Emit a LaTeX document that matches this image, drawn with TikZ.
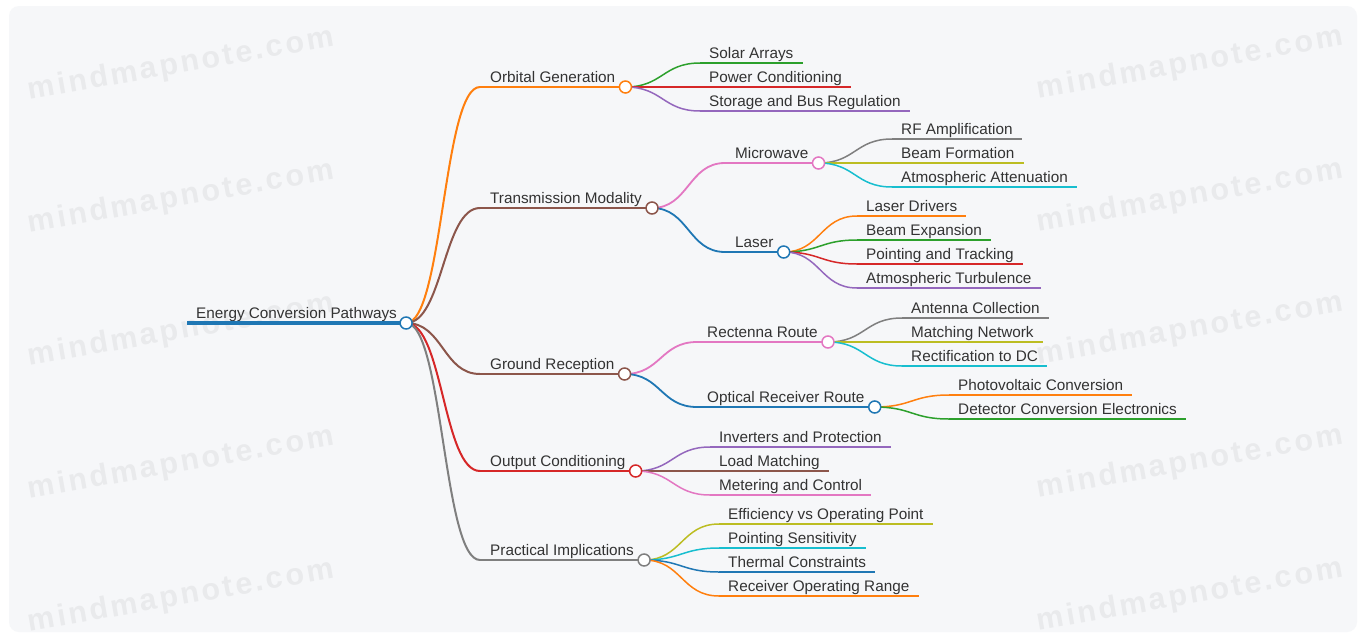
\documentclass[tikz,border=0pt]{standalone}
\usepackage{fontspec}
\setmainfont{Liberation Sans}
\newfontfamily\wmfont[LetterSpace=9]{Liberation Sans}
\usetikzlibrary{calc}
\definecolor{cblue}{HTML}{1F77B4}
\definecolor{corange}{HTML}{FF7F0E}
\definecolor{cgreen}{HTML}{2CA02C}
\definecolor{cred}{HTML}{D62728}
\definecolor{cpurple}{HTML}{9467BD}
\definecolor{cbrown}{HTML}{8C564B}
\definecolor{cpink}{HTML}{E377C2}
\definecolor{cgray}{HTML}{7F7F7F}
\definecolor{colive}{HTML}{BCBD22}
\definecolor{ccyan}{HTML}{17BECF}
\definecolor{bg}{HTML}{F6F7F9}
\definecolor{txt}{HTML}{333333}
\definecolor{wm}{HTML}{E9EAEC}
\newcommand\mmedge[4]{\draw[#1, line width=#2] let \p1=(#3), \p2=(#4) in (\p1) .. controls ({(\x1+\x2)/2},\y1) and ({(\x1+\x2)/2},\y2) .. (\p2);}
\newcommand\mmline[3]{\draw[#1, line width=#2] (#3.south west) -- (#3.south east);}
\newcommand\mmdot[2]{\draw[#1, dot] (#2.south east) circle (6pt);}
\newcommand\wmark[2]{\node[wmark] (#1) at (#2) {mindmapnote.com};}
\begin{document}
\begin{tikzpicture}[x=1pt,y=-1pt,
  lbl/.style={anchor=south west, inner xsep=9pt, inner ysep=0pt, text height=11pt, text depth=4pt, text=txt, font=\fontsize{15.3}{18}\selectfont},
  lone/.style={lbl, inner xsep=10pt},
  dot/.style={fill=white, line width=1.5pt},
  wmark/.style={rotate=10, text=wm, inner sep=0pt, font={\wmfont\bfseries\fontsize{30.5}{36}\selectfont}},
]
\useasboundingbox (0,0) rectangle (1363,635);
\fill[white] (0,0) rectangle (1363,635);
\fill[bg, rounded corners=10pt] (9,6) rectangle (1357,632);
% watermarks
\wmark{w1}{181,65}
\wmark{w2}{181,198}
\wmark{w3}{181,331}
\wmark{w4}{181,464}
\wmark{w5}{181,597}
\wmark{w6}{1190,64}
\wmark{w7}{1190,197}
\wmark{w8}{1190,330}
\wmark{w9}{1190,463}
\wmark{w10}{1190,596}
% nodes
\node[lbl] (root) at (187,323) {Energy Conversion Pathways};
\node[lone] (og) at (480,87) {Orbital Generation};
\node[lone] (tm) at (480,208) {Transmission Modality};
\node[lone] (gr) at (480,374) {Ground Reception};
\node[lone] (oc) at (480,471) {Output Conditioning};
\node[lone] (pi) at (480,560) {Practical Implications};
% orbital
\node[lbl] (og1) at (700,63) {Solar Arrays};
\node[lbl] (og2) at (700,87) {Power Conditioning};
\node[lbl] (og3) at (700,111) {Storage and Bus Regulation};
% transmission
\node[lbl, inner xsep=10pt] (mw) at (725,163) {Microwave};
\node[lbl, inner xsep=10pt] (ls) at (725,252) {Laser};
\node[lbl] (mw1) at (892,139) {RF Amplification};
\node[lbl] (mw2) at (892,163) {Beam Formation};
\node[lbl] (mw3) at (892,187) {Atmospheric Attenuation};
\node[lbl] (ls1) at (857,216) {Laser Drivers};
\node[lbl] (ls2) at (857,240) {Beam Expansion};
\node[lbl] (ls3) at (857,264) {Pointing and Tracking};
\node[lbl] (ls4) at (857,288) {Atmospheric Turbulence};
% ground
\node[lbl, inner xsep=10pt] (rr) at (697,342) {Rectenna Route};
\node[lbl, inner xsep=10pt] (orr) at (697,407) {Optical Receiver Route};
\node[lbl] (rr1) at (902,318) {Antenna Collection};
\node[lbl] (rr2) at (902,342) {Matching Network};
\node[lbl] (rr3) at (902,366) {Rectification to DC};
\node[lbl] (or1) at (949,395) {Photovoltaic Conversion};
\node[lbl] (or2) at (949,419) {Detector Conversion Electronics};
% output
\node[lbl] (oc1) at (710,447) {Inverters and Protection};
\node[lbl] (oc2) at (710,471) {Load Matching};
\node[lbl] (oc3) at (710,495) {Metering and Control};
% practical
\node[lbl] (pi1) at (719,524) {Efficiency vs Operating Point};
\node[lbl] (pi2) at (719,548) {Pointing Sensitivity};
\node[lbl] (pi3) at (719,572) {Thermal Constraints};
\node[lbl] (pi4) at (719,596) {Receiver Operating Range};
% edges level 1
\mmedge{corange}{2pt}{root.south east}{og.south west}
\mmedge{cbrown}{2pt}{root.south east}{tm.south west}
\mmedge{cbrown}{2pt}{root.south east}{gr.south west}
\mmedge{cred}{2pt}{root.south east}{oc.south west}
\mmedge{cgray}{2pt}{root.south east}{pi.south west}
\mmline{corange}{2pt}{og}
\mmline{cbrown}{2pt}{tm}
\mmline{cbrown}{2pt}{gr}
\mmline{cred}{2pt}{oc}
\mmline{cgray}{2pt}{pi}
% level 2 edges
\mmedge{cgreen}{1.5pt}{og.south east}{og1.south west}
\mmedge{cred}{1.5pt}{og.south east}{og2.south west}
\mmedge{cpurple}{1.5pt}{og.south east}{og3.south west}
\mmline{cgreen}{1.5pt}{og1}
\mmline{cred}{1.5pt}{og2}
\mmline{cpurple}{1.5pt}{og3}
\mmedge{cpink}{1.8pt}{tm.south east}{mw.south west}
\mmedge{cblue}{1.8pt}{tm.south east}{ls.south west}
\mmline{cpink}{1.8pt}{mw}
\mmline{cblue}{1.8pt}{ls}
\mmedge{cgray}{1.5pt}{mw.south east}{mw1.south west}
\mmedge{colive}{1.5pt}{mw.south east}{mw2.south west}
\mmedge{ccyan}{1.5pt}{mw.south east}{mw3.south west}
\mmline{cgray}{1.5pt}{mw1}
\mmline{colive}{1.5pt}{mw2}
\mmline{ccyan}{1.5pt}{mw3}
\mmedge{corange}{1.5pt}{ls.south east}{ls1.south west}
\mmedge{cgreen}{1.5pt}{ls.south east}{ls2.south west}
\mmedge{cred}{1.5pt}{ls.south east}{ls3.south west}
\mmedge{cpurple}{1.5pt}{ls.south east}{ls4.south west}
\mmline{corange}{1.5pt}{ls1}
\mmline{cgreen}{1.5pt}{ls2}
\mmline{cred}{1.5pt}{ls3}
\mmline{cpurple}{1.5pt}{ls4}
\mmedge{cpink}{1.8pt}{gr.south east}{rr.south west}
\mmedge{cblue}{1.8pt}{gr.south east}{orr.south west}
\mmline{cpink}{1.8pt}{rr}
\mmline{cblue}{1.8pt}{orr}
\mmedge{cgray}{1.5pt}{rr.south east}{rr1.south west}
\mmedge{colive}{1.5pt}{rr.south east}{rr2.south west}
\mmedge{ccyan}{1.5pt}{rr.south east}{rr3.south west}
\mmline{cgray}{1.5pt}{rr1}
\mmline{colive}{1.5pt}{rr2}
\mmline{ccyan}{1.5pt}{rr3}
\mmedge{corange}{1.5pt}{orr.south east}{or1.south west}
\mmedge{cgreen}{1.5pt}{orr.south east}{or2.south west}
\mmline{corange}{1.5pt}{or1}
\mmline{cgreen}{1.5pt}{or2}
\mmedge{cpurple}{1.5pt}{oc.south east}{oc1.south west}
\mmedge{cbrown}{1.5pt}{oc.south east}{oc2.south west}
\mmedge{cpink}{1.5pt}{oc.south east}{oc3.south west}
\mmline{cpurple}{1.5pt}{oc1}
\mmline{cbrown}{1.5pt}{oc2}
\mmline{cpink}{1.5pt}{oc3}
\mmedge{colive}{1.5pt}{pi.south east}{pi1.south west}
\mmedge{ccyan}{1.5pt}{pi.south east}{pi2.south west}
\mmedge{cblue}{1.5pt}{pi.south east}{pi3.south west}
\mmedge{corange}{1.5pt}{pi.south east}{pi4.south west}
\mmline{colive}{1.5pt}{pi1}
\mmline{ccyan}{1.5pt}{pi2}
\mmline{cblue}{1.5pt}{pi3}
\mmline{corange}{1.5pt}{pi4}
% root line
\mmline{cblue}{4pt}{root}
% dots
\mmdot{cblue}{root}
\mmdot{corange}{og}
\mmdot{cbrown}{tm}
\mmdot{cbrown}{gr}
\mmdot{cred}{oc}
\mmdot{cgray}{pi}
\mmdot{cpink}{mw}
\mmdot{cblue}{ls}
\mmdot{cpink}{rr}
\mmdot{cblue}{orr}
\end{tikzpicture}
\end{document}
